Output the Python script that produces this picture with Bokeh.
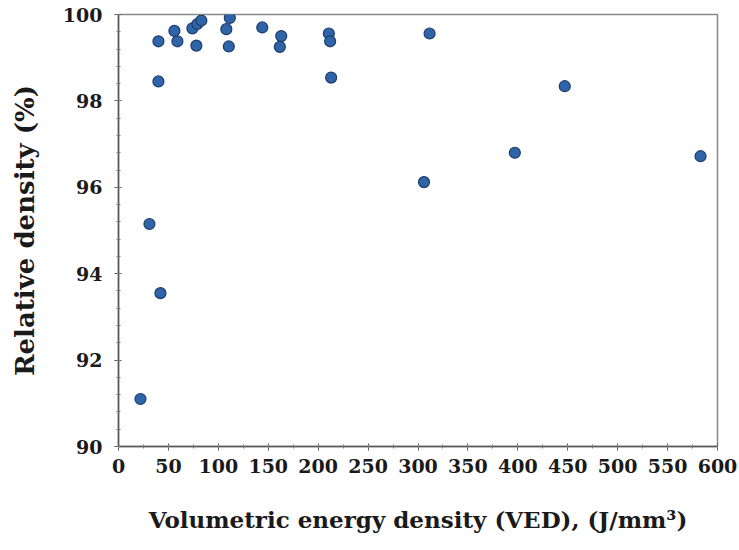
from bokeh.plotting import figure
from bokeh.models import Range1d, SingleIntervalTicker, ColumnDataSource
from bokeh.embed import file_html
from bokeh.resources import INLINE

# Data
ved = [22, 31, 42, 40, 40, 56, 59, 74, 79, 83, 78, 108, 110.5, 111.5, 144,
       161.6, 163, 210.7, 212, 213, 306, 311.6, 397, 447, 583]
rel_density = [91.1, 95.15, 93.55, 98.45, 99.38, 99.62, 99.38, 99.68, 99.78, 99.86,
               99.28, 99.66, 99.26, 99.92, 99.70, 99.25, 99.50, 99.56, 99.38, 98.54,
               96.12, 99.56, 96.80, 98.34, 96.72]

x_title = "Volumetric energy density (VED), (J/mm\u00b3)"
y_title = "Relative density (%)"

src = ColumnDataSource(data=dict(x=ved, y=rel_density))

p = figure(width=739, height=550, output_backend="svg", toolbar_location=None,
           x_range=Range1d(0, 600), y_range=Range1d(90, 100),
           min_border_left=118, min_border_right=22, min_border_top=14,
           min_border_bottom=104)

p.scatter("x", "y", source=src, size=11, fill_color="#2f64a8",
          line_color="#1d3d6e", line_width=1.2)

p.xgrid.visible = False
p.ygrid.visible = False
p.outline_line_color = "#8a8a8a"
p.outline_line_width = 1.5
p.background_fill_color = "white"
p.border_fill_color = "white"

font = "DejaVu Serif"

p.xaxis.ticker = SingleIntervalTicker(interval=50, num_minor_ticks=2)
p.yaxis.ticker = SingleIntervalTicker(interval=2, num_minor_ticks=5)

for ax in (p.xaxis[0], p.yaxis[0]):
    ax.axis_line_color = "#555555"
    ax.axis_line_width = 1.5
    ax.major_tick_line_color = "#555555"
    ax.minor_tick_line_color = "#777777"
    ax.major_tick_in = 3
    ax.major_tick_out = 4
    ax.minor_tick_in = 2
    ax.minor_tick_out = 2
    ax.major_label_text_font = font
    ax.major_label_text_font_style = "bold"
    ax.major_label_text_font_size = "19px"
    ax.major_label_text_color = "#1a1a1a"
    ax.axis_label_text_font = font
    ax.axis_label_text_font_style = "bold"
    ax.axis_label_text_color = "#1a1a1a"

p.xaxis.axis_label = x_title
p.yaxis.axis_label = y_title
p.xaxis.axis_label_text_font_size = "23px"
p.yaxis.axis_label_text_font_size = "26px"
p.xaxis.major_label_standoff = 8
p.xaxis.axis_label_standoff = 30
p.yaxis.major_label_standoff = 12
p.yaxis.axis_label_standoff = 20

open("out.html", "w").write(file_html(p, INLINE))
